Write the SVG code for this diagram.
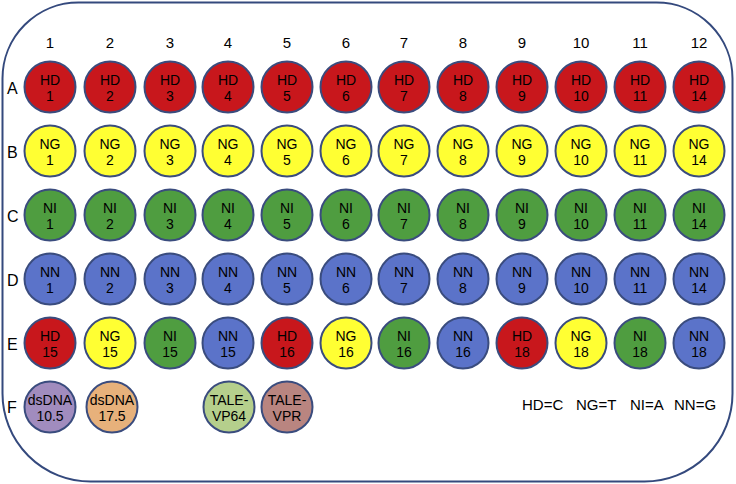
<svg xmlns="http://www.w3.org/2000/svg" width="736" height="484" viewBox="0 0 736 484">
<style>
text{font-family:"Liberation Sans",Arial,sans-serif;fill:#000}
.w{stroke:#3a4c7e;stroke-width:2}
.t{font-size:14px;text-anchor:middle}
.c{font-size:15px;text-anchor:middle}
.r{font-size:16px}
.lg{font-size:15px}
.hd{fill:#c8171c}.ng{fill:#ffff33}.ni{fill:#4f9d40}.nn{fill:#5b73c9}
.f1{fill:#a18cbe}.f2{fill:#e7b17b}.f3{fill:#b5cf8c}.f4{fill:#b98580}
</style>
<path id="plate" d="M78.5,2.5 H656.5 A76,76 0 0 1 732.5,78.5 V393.5 A88,88 0 0 1 644.5,481.5 H90.5 A88,88 0 0 1 2.5,393.5 V78.5 A76,76 0 0 1 78.5,2.5 Z" fill="#fff" stroke="#34497d" stroke-width="2"/>
<g id="colLabels">
<text class="c" x="50" y="48">1</text><text class="c" x="110" y="48">2</text><text class="c" x="170" y="48">3</text><text class="c" x="228" y="48">4</text><text class="c" x="287" y="48">5</text><text class="c" x="346" y="48">6</text><text class="c" x="404" y="48">7</text><text class="c" x="463" y="48">8</text><text class="c" x="522" y="48">9</text><text class="c" x="581" y="48">10</text><text class="c" x="640" y="48">11</text><text class="c" x="699" y="48">12</text>
</g>
<g id="rowLabels">
<text class="r" x="7" y="94">A</text><text class="r" x="7" y="158">B</text><text class="r" x="7" y="222">C</text><text class="r" x="7" y="286">D</text><text class="r" x="7" y="350">E</text><text class="r" x="7" y="413">F</text>
</g>
<g id="rowA">
<g id="A1"><circle class="w hd" cx="50" cy="87" r="25.5"/><text class="t" x="50" y="85">HD</text><text class="t" x="50" y="101">1</text></g>
<g id="A2"><circle class="w hd" cx="110" cy="87" r="25.5"/><text class="t" x="110" y="85">HD</text><text class="t" x="110" y="101">2</text></g>
<g id="A3"><circle class="w hd" cx="170" cy="87" r="25.5"/><text class="t" x="170" y="85">HD</text><text class="t" x="170" y="101">3</text></g>
<g id="A4"><circle class="w hd" cx="228" cy="87" r="25.5"/><text class="t" x="228" y="85">HD</text><text class="t" x="228" y="101">4</text></g>
<g id="A5"><circle class="w hd" cx="287" cy="87" r="25.5"/><text class="t" x="287" y="85">HD</text><text class="t" x="287" y="101">5</text></g>
<g id="A6"><circle class="w hd" cx="346" cy="87" r="25.5"/><text class="t" x="346" y="85">HD</text><text class="t" x="346" y="101">6</text></g>
<g id="A7"><circle class="w hd" cx="404" cy="87" r="25.5"/><text class="t" x="404" y="85">HD</text><text class="t" x="404" y="101">7</text></g>
<g id="A8"><circle class="w hd" cx="463" cy="87" r="25.5"/><text class="t" x="463" y="85">HD</text><text class="t" x="463" y="101">8</text></g>
<g id="A9"><circle class="w hd" cx="522" cy="87" r="25.5"/><text class="t" x="522" y="85">HD</text><text class="t" x="522" y="101">9</text></g>
<g id="A10"><circle class="w hd" cx="581" cy="87" r="25.5"/><text class="t" x="581" y="85">HD</text><text class="t" x="581" y="101">10</text></g>
<g id="A11"><circle class="w hd" cx="640" cy="87" r="25.5"/><text class="t" x="640" y="85">HD</text><text class="t" x="640" y="101">11</text></g>
<g id="A12"><circle class="w hd" cx="699" cy="87" r="25.5"/><text class="t" x="699" y="85">HD</text><text class="t" x="699" y="101">14</text></g>
</g>
<g id="rowB">
<g id="B1"><circle class="w ng" cx="50" cy="151" r="25.5"/><text class="t" x="50" y="149">NG</text><text class="t" x="50" y="165">1</text></g>
<g id="B2"><circle class="w ng" cx="110" cy="151" r="25.5"/><text class="t" x="110" y="149">NG</text><text class="t" x="110" y="165">2</text></g>
<g id="B3"><circle class="w ng" cx="170" cy="151" r="25.5"/><text class="t" x="170" y="149">NG</text><text class="t" x="170" y="165">3</text></g>
<g id="B4"><circle class="w ng" cx="228" cy="151" r="25.5"/><text class="t" x="228" y="149">NG</text><text class="t" x="228" y="165">4</text></g>
<g id="B5"><circle class="w ng" cx="287" cy="151" r="25.5"/><text class="t" x="287" y="149">NG</text><text class="t" x="287" y="165">5</text></g>
<g id="B6"><circle class="w ng" cx="346" cy="151" r="25.5"/><text class="t" x="346" y="149">NG</text><text class="t" x="346" y="165">6</text></g>
<g id="B7"><circle class="w ng" cx="404" cy="151" r="25.5"/><text class="t" x="404" y="149">NG</text><text class="t" x="404" y="165">7</text></g>
<g id="B8"><circle class="w ng" cx="463" cy="151" r="25.5"/><text class="t" x="463" y="149">NG</text><text class="t" x="463" y="165">8</text></g>
<g id="B9"><circle class="w ng" cx="522" cy="151" r="25.5"/><text class="t" x="522" y="149">NG</text><text class="t" x="522" y="165">9</text></g>
<g id="B10"><circle class="w ng" cx="581" cy="151" r="25.5"/><text class="t" x="581" y="149">NG</text><text class="t" x="581" y="165">10</text></g>
<g id="B11"><circle class="w ng" cx="640" cy="151" r="25.5"/><text class="t" x="640" y="149">NG</text><text class="t" x="640" y="165">11</text></g>
<g id="B12"><circle class="w ng" cx="699" cy="151" r="25.5"/><text class="t" x="699" y="149">NG</text><text class="t" x="699" y="165">14</text></g>
</g>
<g id="rowC">
<g id="C1"><circle class="w ni" cx="50" cy="215" r="25.5"/><text class="t" x="50" y="213">NI</text><text class="t" x="50" y="229">1</text></g>
<g id="C2"><circle class="w ni" cx="110" cy="215" r="25.5"/><text class="t" x="110" y="213">NI</text><text class="t" x="110" y="229">2</text></g>
<g id="C3"><circle class="w ni" cx="170" cy="215" r="25.5"/><text class="t" x="170" y="213">NI</text><text class="t" x="170" y="229">3</text></g>
<g id="C4"><circle class="w ni" cx="228" cy="215" r="25.5"/><text class="t" x="228" y="213">NI</text><text class="t" x="228" y="229">4</text></g>
<g id="C5"><circle class="w ni" cx="287" cy="215" r="25.5"/><text class="t" x="287" y="213">NI</text><text class="t" x="287" y="229">5</text></g>
<g id="C6"><circle class="w ni" cx="346" cy="215" r="25.5"/><text class="t" x="346" y="213">NI</text><text class="t" x="346" y="229">6</text></g>
<g id="C7"><circle class="w ni" cx="404" cy="215" r="25.5"/><text class="t" x="404" y="213">NI</text><text class="t" x="404" y="229">7</text></g>
<g id="C8"><circle class="w ni" cx="463" cy="215" r="25.5"/><text class="t" x="463" y="213">NI</text><text class="t" x="463" y="229">8</text></g>
<g id="C9"><circle class="w ni" cx="522" cy="215" r="25.5"/><text class="t" x="522" y="213">NI</text><text class="t" x="522" y="229">9</text></g>
<g id="C10"><circle class="w ni" cx="581" cy="215" r="25.5"/><text class="t" x="581" y="213">NI</text><text class="t" x="581" y="229">10</text></g>
<g id="C11"><circle class="w ni" cx="640" cy="215" r="25.5"/><text class="t" x="640" y="213">NI</text><text class="t" x="640" y="229">11</text></g>
<g id="C12"><circle class="w ni" cx="699" cy="215" r="25.5"/><text class="t" x="699" y="213">NI</text><text class="t" x="699" y="229">14</text></g>
</g>
<g id="rowD">
<g id="D1"><circle class="w nn" cx="50" cy="279" r="25.5"/><text class="t" x="50" y="277">NN</text><text class="t" x="50" y="293">1</text></g>
<g id="D2"><circle class="w nn" cx="110" cy="279" r="25.5"/><text class="t" x="110" y="277">NN</text><text class="t" x="110" y="293">2</text></g>
<g id="D3"><circle class="w nn" cx="170" cy="279" r="25.5"/><text class="t" x="170" y="277">NN</text><text class="t" x="170" y="293">3</text></g>
<g id="D4"><circle class="w nn" cx="228" cy="279" r="25.5"/><text class="t" x="228" y="277">NN</text><text class="t" x="228" y="293">4</text></g>
<g id="D5"><circle class="w nn" cx="287" cy="279" r="25.5"/><text class="t" x="287" y="277">NN</text><text class="t" x="287" y="293">5</text></g>
<g id="D6"><circle class="w nn" cx="346" cy="279" r="25.5"/><text class="t" x="346" y="277">NN</text><text class="t" x="346" y="293">6</text></g>
<g id="D7"><circle class="w nn" cx="404" cy="279" r="25.5"/><text class="t" x="404" y="277">NN</text><text class="t" x="404" y="293">7</text></g>
<g id="D8"><circle class="w nn" cx="463" cy="279" r="25.5"/><text class="t" x="463" y="277">NN</text><text class="t" x="463" y="293">8</text></g>
<g id="D9"><circle class="w nn" cx="522" cy="279" r="25.5"/><text class="t" x="522" y="277">NN</text><text class="t" x="522" y="293">9</text></g>
<g id="D10"><circle class="w nn" cx="581" cy="279" r="25.5"/><text class="t" x="581" y="277">NN</text><text class="t" x="581" y="293">10</text></g>
<g id="D11"><circle class="w nn" cx="640" cy="279" r="25.5"/><text class="t" x="640" y="277">NN</text><text class="t" x="640" y="293">11</text></g>
<g id="D12"><circle class="w nn" cx="699" cy="279" r="25.5"/><text class="t" x="699" y="277">NN</text><text class="t" x="699" y="293">14</text></g>
</g>
<g id="rowE">
<g id="E1"><circle class="w hd" cx="50" cy="343" r="25.5"/><text class="t" x="50" y="341">HD</text><text class="t" x="50" y="357">15</text></g>
<g id="E2"><circle class="w ng" cx="110" cy="343" r="25.5"/><text class="t" x="110" y="341">NG</text><text class="t" x="110" y="357">15</text></g>
<g id="E3"><circle class="w ni" cx="170" cy="343" r="25.5"/><text class="t" x="170" y="341">NI</text><text class="t" x="170" y="357">15</text></g>
<g id="E4"><circle class="w nn" cx="228" cy="343" r="25.5"/><text class="t" x="228" y="341">NN</text><text class="t" x="228" y="357">15</text></g>
<g id="E5"><circle class="w hd" cx="287" cy="343" r="25.5"/><text class="t" x="287" y="341">HD</text><text class="t" x="287" y="357">16</text></g>
<g id="E6"><circle class="w ng" cx="346" cy="343" r="25.5"/><text class="t" x="346" y="341">NG</text><text class="t" x="346" y="357">16</text></g>
<g id="E7"><circle class="w ni" cx="404" cy="343" r="25.5"/><text class="t" x="404" y="341">NI</text><text class="t" x="404" y="357">16</text></g>
<g id="E8"><circle class="w nn" cx="463" cy="343" r="25.5"/><text class="t" x="463" y="341">NN</text><text class="t" x="463" y="357">16</text></g>
<g id="E9"><circle class="w hd" cx="522" cy="343" r="25.5"/><text class="t" x="522" y="341">HD</text><text class="t" x="522" y="357">18</text></g>
<g id="E10"><circle class="w ng" cx="581" cy="343" r="25.5"/><text class="t" x="581" y="341">NG</text><text class="t" x="581" y="357">18</text></g>
<g id="E11"><circle class="w ni" cx="640" cy="343" r="25.5"/><text class="t" x="640" y="341">NI</text><text class="t" x="640" y="357">18</text></g>
<g id="E12"><circle class="w nn" cx="699" cy="343" r="25.5"/><text class="t" x="699" y="341">NN</text><text class="t" x="699" y="357">18</text></g>
</g>
<g id="rowF">
<g id="F1"><circle class="w f1" cx="50" cy="407" r="25.5"/><text class="t" x="50" y="405">dsDNA</text><text class="t" x="50" y="421">10.5</text></g>
<g id="F2"><circle class="w f2" cx="112" cy="407" r="25.5"/><text class="t" x="112" y="405">dsDNA</text><text class="t" x="112" y="421">17.5</text></g>
<g id="F4"><circle class="w f3" cx="229" cy="407" r="25.5"/><text class="t" x="229" y="405">TALE-</text><text class="t" x="229" y="421">VP64</text></g>
<g id="F5"><circle class="w f4" cx="287" cy="407" r="25.5"/><text class="t" x="287" y="405">TALE-</text><text class="t" x="287" y="421">VPR</text></g>
</g>
<g id="legend">
<text class="lg" x="522" y="410">HD=C</text><text class="lg" x="576" y="410">NG=T</text><text class="lg" x="630" y="410">NI=A</text><text class="lg" x="674" y="410">NN=G</text>
</g>
<g id="connectors"></g>
</svg>
